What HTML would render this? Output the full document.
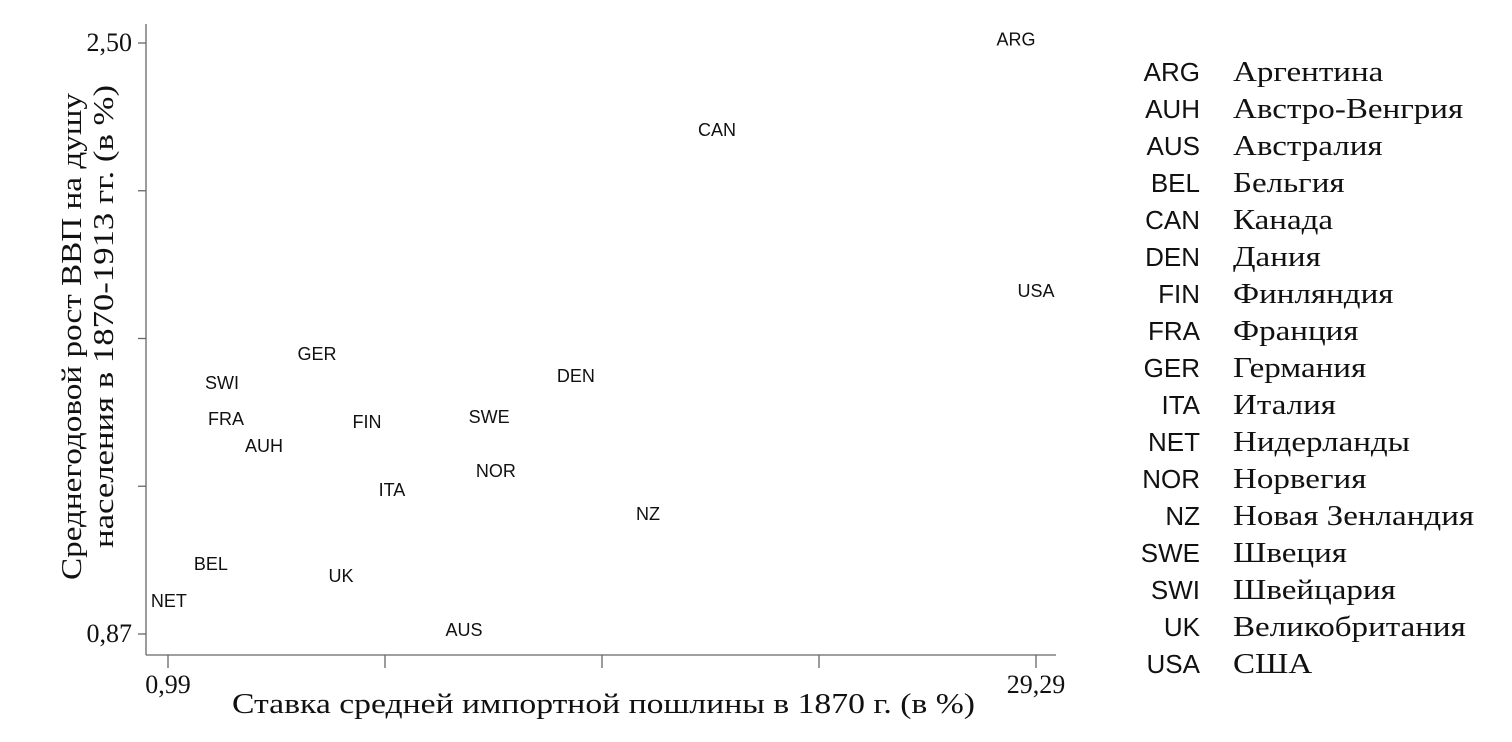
<!DOCTYPE html>
<html><head><meta charset="utf-8"><style>
html,body{margin:0;padding:0;background:#fff;}
svg{display:block;}
.lbl{font-family:"Liberation Sans",Arial,sans-serif;font-size:18px;fill:#111;}
.serif{font-family:"Liberation Serif","DejaVu Serif",serif;fill:#111;}
.code{font-family:"Liberation Sans","DejaVu Sans",sans-serif;font-size:26px;fill:#111;}
</style></head><body>
<svg id="chart" width="1512" height="742" viewBox="0 0 1512 742" xmlns="http://www.w3.org/2000/svg">
<g id="axes">
<line x1="146" y1="24" x2="146" y2="655" stroke="#666" stroke-width="1.3"/>
<line x1="146" y1="655" x2="1056" y2="655" stroke="#666" stroke-width="1.3"/>
</g>
<g id="ticks"></g>
<g id="points"></g>
<text class="serif" x="232" y="713" font-size="28" textLength="743" lengthAdjust="spacingAndGlyphs">Ставка средней импортной пошлины в 1870 г. (в %)</text>
<g class="serif" font-size="28">
<text transform="translate(81,580) rotate(-90)" textLength="487" lengthAdjust="spacingAndGlyphs">Среднегодовой рост ВВП на душу</text>
<text transform="translate(113,548) rotate(-90)" textLength="463" lengthAdjust="spacingAndGlyphs">населения в 1870-1913 гг. (в %)</text>
</g>
<g id="legend"></g>
</svg>
<script>
const codes=["ARG","CAN","USA","GER","SWI","DEN","FRA","FIN","SWE","AUH","NOR","ITA","NZ","BEL","UK","NET","AUS"];
const tariff=[28.64,18.89,29.29,5.85,2.75,14.29,2.88,7.48,11.46,4.12,11.68,8.29,16.64,2.39,6.63,1.02,10.64];
const growth=[2.51,2.26,1.816,1.642,1.562,1.581,1.463,1.455,1.468,1.389,1.320,1.267,1.201,1.063,1.03,0.961,0.881];
const xTickLabels=["0,99","","","","29,29"];
const yTickLabels=["2,50","","","","0,87"];
const legendCodes=["ARG","AUH","AUS","BEL","CAN","DEN","FIN","FRA","GER","ITA","NET","NOR","NZ","SWE","SWI","UK","USA"];
const legendNames=["Аргентина","Австро-Венгрия","Австралия","Бельгия","Канада","Дания","Финляндия","Франция","Германия","Италия","Нидерланды","Норвегия","Новая Зенландия","Швеция","Швейцария","Великобритания","США"];
const xMin=0.99,xMax=29.29,yMin=0.87,yMax=2.50;
const NS="http://www.w3.org/2000/svg";
function X(v){return 168+(v-xMin)/(xMax-xMin)*868;}
function Y(v){return 634-(v-yMin)/(yMax-yMin)*591;}
function mk(tag,attrs,parent,txt){const e=document.createElementNS(NS,tag);for(const k in attrs)e.setAttribute(k,attrs[k]);if(txt!==undefined)e.textContent=txt;parent.appendChild(e);return e;}
const tk=document.getElementById('ticks');
xTickLabels.forEach((l,i)=>{const v=xMin+(xMax-xMin)*i/4;const x=X(v);
 const t=mk('line',{x1:x,y1:655,x2:x,y2:668,stroke:'#666','stroke-width':1.3},tk);
 
 
 if(l){const tx=mk('text',{x:x,y:693,'text-anchor':'middle','class':'serif','font-size':26},tk,l);
 
 }
});
yTickLabels.forEach((l,i)=>{const v=yMax-(yMax-yMin)*i/4;const y=Y(v);
 const t=mk('line',{x1:138,y1:y,x2:146,y2:y,stroke:'#666','stroke-width':1.3},tk);
 
 
 if(l){const tx=mk('text',{x:132,y:y+8,'text-anchor':'end','class':'serif','font-size':26},tk,l);
 
 }
});
const pg=document.getElementById('points');
codes.forEach((c,i)=>{const t=mk('text',{x:X(tariff[i]),y:Y(growth[i])+6,'text-anchor':'middle','class':'lbl'},pg,c);
 
 
});
const lg=document.getElementById('legend');
legendCodes.forEach((c,i)=>{const y=81+i*37;
 const a=mk('text',{x:1200,y:y,'text-anchor':'end','class':'code'},lg,c);
 
 
 const b=mk('text',{x:1233,y:y,'class':'serif','font-size':28},lg,legendNames[i]);
 
 
 const w=b.getComputedTextLength();
 if(w>0){b.setAttribute('textLength',(w*1.18).toFixed(1));b.setAttribute('lengthAdjust','spacingAndGlyphs');}
});
</script>
</body></html>
